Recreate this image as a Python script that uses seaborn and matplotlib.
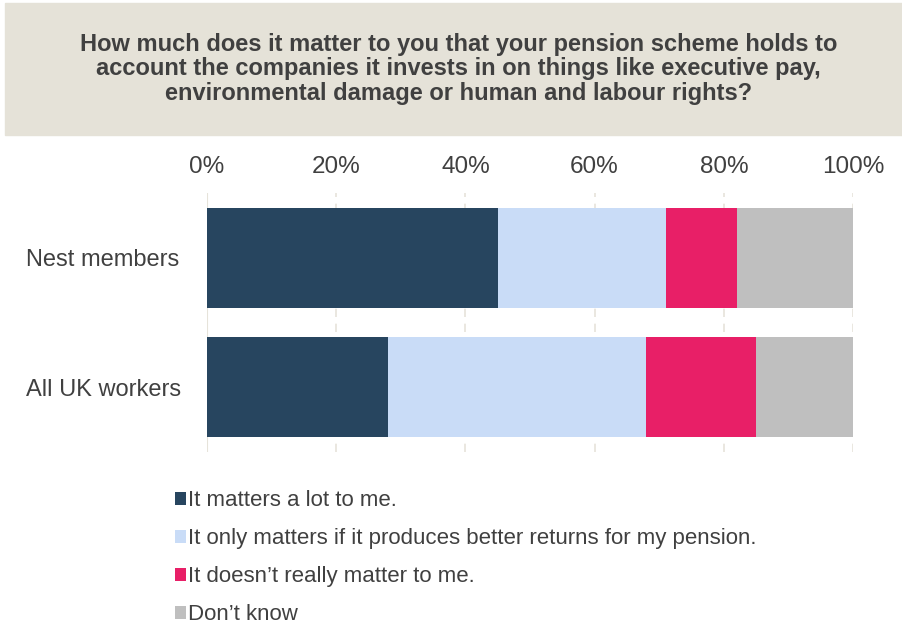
import pandas as pd
import matplotlib.pyplot as plt
import seaborn as sns
from matplotlib.patches import Patch, Rectangle

# Data (percent of respondents)
groups = ["Nest members", "All UK workers"]
answers = [
    "It matters a lot to me.",
    "It only matters if it produces better returns for my pension.",
    "It doesn\u2019t really matter to me.",
    "Don\u2019t know",
]
matters_a_lot = [45, 28]
only_if_returns = [26, 40]
doesnt_matter = [11, 17]
dont_know = [18, 15]
colors = ["#27455f", "#c9dcf7", "#e81f67", "#bfbfbf"]

title = ("How much does it matter to you that your pension scheme holds to\n"
         "account the companies it invests in on things like executive pay,\n"
         "environmental damage or human and labour rights?")

df = pd.DataFrame({"group": groups,
                   answers[0]: matters_a_lot,
                   answers[1]: only_if_returns,
                   answers[2]: doesnt_matter,
                   answers[3]: dont_know})
cum = df[answers].cumsum(axis=1)

sns.set_style("white")
plt.rcParams['font.family'] = ['Liberation Sans', 'DejaVu Sans']
text_col = "#404040"

fig = plt.figure(figsize=(9.02, 6.43), dpi=100)
ax = fig.add_axes([0.2295, 0.297, 0.7162, 0.403])

# title band
fig.patches.append(Rectangle((5 / 902, 1 - 135 / 643), 1, 132 / 643,
                             transform=fig.transFigure, color="#e5e2d8", zorder=0))
fig.text(0.508, 0.893, title, ha="center", va="center", fontsize=17,
         fontweight="bold", color=text_col, linespacing=1.1)

# stacked bars: draw cumulative totals from the back to the front
for ans, col in reversed(list(zip(answers, colors))):
    sns.barplot(x=cum[ans] / 100, y=df["group"], orient="h", color=col,
                width=0.77, ax=ax, saturation=1, linewidth=0, zorder=3)

ax.set_xlim(0, 1)
ax.set_ylim(1.5, -0.5)
ax.set_xticks([0, 0.2, 0.4, 0.6, 0.8, 1.0])
ax.set_xticklabels(["0%", "20%", "40%", "60%", "80%", "100%"])
ax.xaxis.tick_top()
ax.tick_params(axis="x", length=0, pad=11, labelsize=17.5, colors=text_col)
ax.tick_params(axis="y", length=0, pad=130, labelsize=17, colors=text_col)
for lab in ax.get_yticklabels():
    lab.set_ha("left")
ax.set_xlabel("")
ax.set_ylabel("")
for s in ax.spines.values():
    s.set_visible(False)
for v in [0.2, 0.4, 0.6, 0.8, 1.0]:
    ax.axvline(v, color="#e6e3da", lw=1.2, ls=(0, (5, 4)), zorder=1)
ax.axvline(0, color="#e6e3da", lw=1.5, zorder=1)

handles = [Patch(facecolor=c, edgecolor="none") for c in colors]
fig.legend(handles, answers, loc="upper left", bbox_to_anchor=(0.1845, 0.251),
           frameon=False, fontsize=16, labelcolor=text_col,
           handlelength=0.5, handleheight=0.5, handletextpad=0.08,
           labelspacing=0.76, borderaxespad=0)

fig.savefig("out.png", dpi=100)
